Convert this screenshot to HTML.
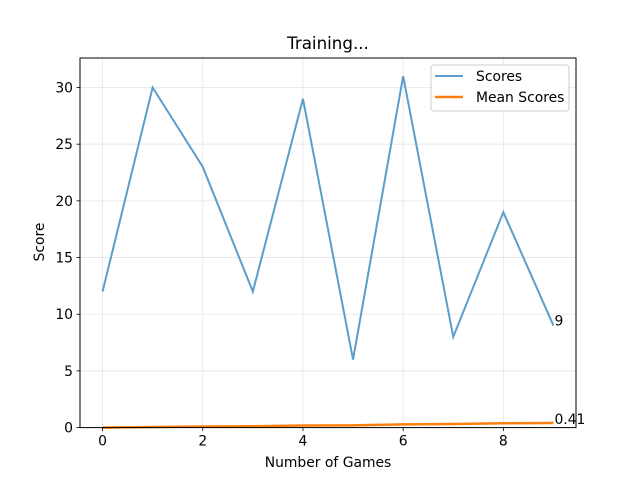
<!DOCTYPE html>
<html><head><meta charset="utf-8"><style>
html,body{margin:0;padding:0;background:#fff;}
svg{display:block;font-family:"DejaVu Sans","Liberation Sans",sans-serif;}
</style></head><body>
<svg id="chart" width="640" height="480" viewBox="0 0 640 480">
<rect width="640" height="480" fill="#fff"/>
<g id="grid"></g>
<g id="series"></g>
<rect x="80" y="58" width="496" height="369.6" fill="none" stroke="#000" stroke-width="1"/>
<g id="ticks"></g>
<text x="328" y="49" font-size="16.7" text-anchor="middle">Training...</text>
<text x="328" y="467" font-size="13.9" text-anchor="middle">Number of Games</text>
<text x="44" y="242" font-size="13.9" text-anchor="middle" transform="rotate(-90 44 242)">Score</text>
<g>
<rect x="431" y="65" width="138" height="46" rx="3" fill="#fff" fill-opacity="0.8" stroke="#ccc"/>
<line x1="435" y1="76" x2="463" y2="76" stroke="#5b9ecb" stroke-width="2"/>
<text x="476" y="81" font-size="13.9">Scores</text>
<line x1="435" y1="97" x2="463" y2="97" stroke="#ff7f0e" stroke-width="2.5"/>
<text x="476" y="102" font-size="13.9">Mean Scores</text>
</g>
</svg>
<script>
const games=[0,1,2,3,4,5,6,7,8,9];
const scores=[12,30,23,12,29,6,31,8,19,9];
const meanScores=[0,0.05,0.1,0.12,0.18,0.2,0.28,0.32,0.38,0.41];
const xTicks=[0,2,4,6,8];
const yTicks=[0,5,10,15,20,25,30];
const NS="http://www.w3.org/2000/svg";
const X0=80,X1=576,Y0=427.6,Y1=58,xMin=-0.45,xMax=9.45,yMin=0,yMax=32.6;
const xs=v=>X0+(v-xMin)/(xMax-xMin)*(X1-X0);
const ys=v=>Y0-(v-yMin)/(yMax-yMin)*(Y0-Y1);
function mk(tag,attrs,parent){const e=document.createElementNS(NS,tag);for(const k in attrs)e.setAttribute(k,attrs[k]);parent.appendChild(e);return e;}
const grid=document.getElementById('grid'),ticks=document.getElementById('ticks'),series=document.getElementById('series');
xTicks.forEach(t=>{const x=xs(t);
 const g=mk('line',{x1:x,x2:x,y1:Y1,y2:Y0,stroke:'#e5e5e5','stroke-width':0.8},grid);
 
 
 const tk=mk('line',{x1:x,x2:x,y1:Y0,y2:Y0+3.5,stroke:'#000','stroke-width':0.8},ticks);
 
 
 const l=mk('text',{x:x,y:Y0+18,'font-size':13.9,'text-anchor':'middle'},ticks);l.textContent=t;
 
 
});
yTicks.forEach(t=>{const y=ys(t);
 const g=mk('line',{x1:X0,x2:X1,y1:y,y2:y,stroke:'#e5e5e5','stroke-width':0.8},grid);
 
 
 const tk=mk('line',{x1:X0-3.5,x2:X0,y1:y,y2:y,stroke:'#000','stroke-width':0.8},ticks);
 
 
 const l=mk('text',{x:X0-7,y:y+5,'font-size':13.9,'text-anchor':'end'},ticks);l.textContent=t;
 
 
});
const p1=mk('polyline',{points:games.map((g,i)=>xs(g)+','+ys(scores[i])).join(' '),fill:'none',stroke:'#5b9ecb','stroke-width':2},series);


const p2=mk('polyline',{points:games.map((g,i)=>xs(g)+','+ys(meanScores[i])).join(' '),fill:'none',stroke:'#ff7f0e','stroke-width':2.5},series);


const n=games.length-1;
const a1=mk('text',{x:xs(games[n])+1,y:ys(scores[n])+0,'font-size':13.9},series);a1.textContent=scores[n];


const a2=mk('text',{x:xs(games[n])+1,y:ys(meanScores[n])+1,'font-size':13.9},series);a2.textContent=meanScores[n];


</script>
</body></html>
